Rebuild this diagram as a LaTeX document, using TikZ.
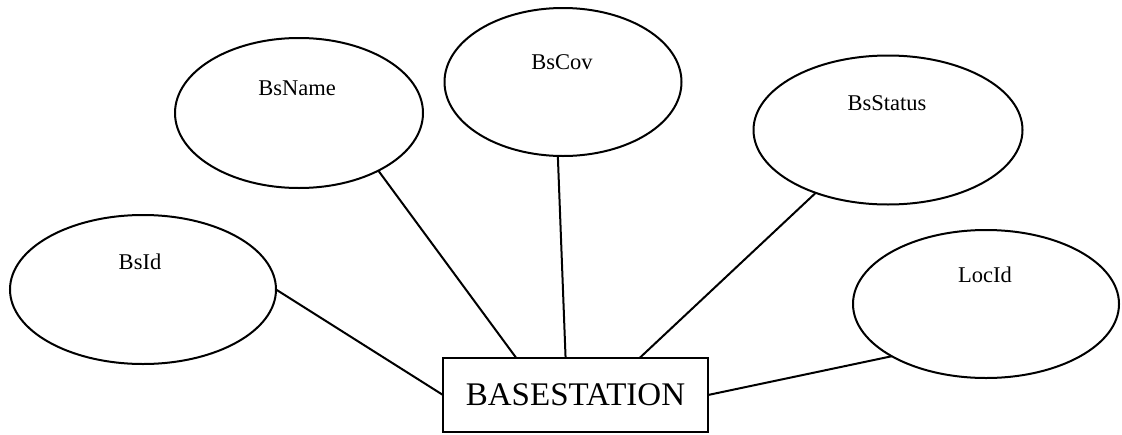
\documentclass[tikz,border=0pt]{standalone}
\usepackage{fontspec}
\setmainfont{Liberation Serif}
\usetikzlibrary{shapes.geometric}
\begin{document}
\begin{tikzpicture}[x=1pt,y=-1pt,
  attr/.style={ellipse,draw,line width=2pt,inner sep=0pt,outer sep=0pt},
  attrtext/.style={font=\fontsize{22.5}{24}\selectfont,inner sep=0pt},
  entity/.style={rectangle,draw,line width=2pt,inner sep=0pt,outer sep=0pt,
    minimum width=265pt,minimum height=74pt,font=\fontsize{33}{36}\selectfont},
  link/.style={line width=2pt}]
\useasboundingbox (0,0) rectangle (1122,434);

% entity
\node[entity] (bs) at (575.5,395) {BASESTATION};

% attributes
\node[attr,minimum width=266pt,minimum height=149pt] (bsid) at (143,289.5) {};
\node[attrtext] (bsidt) at (140,262) {BsId};

\node[attr,minimum width=248pt,minimum height=150pt] (bsname) at (299,113) {};
\node[attrtext] (bsnamet) at (297,88) {BsName};

\node[attr,minimum width=237pt,minimum height=148pt] (bscov) at (563,82) {};
\node[attrtext] (bscovt) at (562,62) {BsCov};

\node[attr,minimum width=269pt,minimum height=149pt] (bsstatus) at (888,130) {};
\node[attrtext] (bsstatust) at (887,103) {BsStatus};

\node[attr,minimum width=266pt,minimum height=148pt] (locid) at (986,304) {};
\node[attrtext] (locidt) at (985,275) {LocId};

% connectors
\draw[link] (bsid.0) -- (bs.west);
\draw[link] (bsname.-36) -- (bs.148.6);
\draw[link] (bscov.-94.5) -- (bs.105.8);
\draw[link] (bsstatus.-139) -- (bs.30.6);
\draw[link] (locid.-151) -- (bs.east);
\end{tikzpicture}
\end{document}
